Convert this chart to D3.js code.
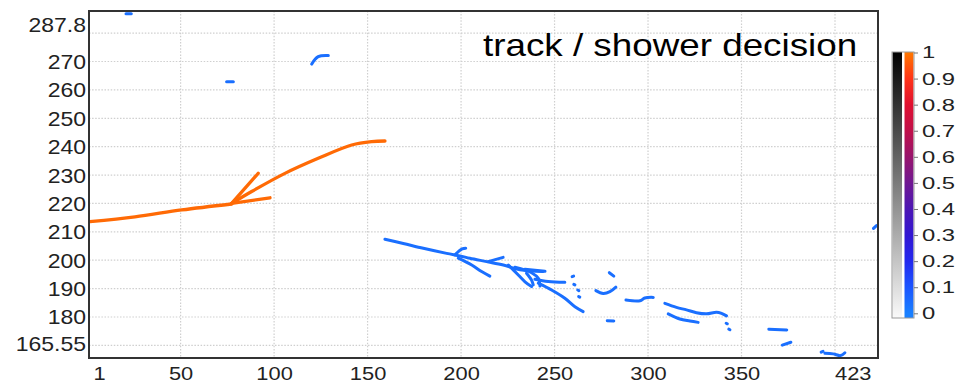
<!DOCTYPE html>
<html>
<head>
<meta charset="utf-8">
<script src="https://cdn.jsdelivr.net/npm/d3@7"></script>
<style>
  html, body { margin: 0; padding: 0; background: #fff; }
  svg { display: block; font-family: "Liberation Sans", Arial, sans-serif; }
</style>
</head>
<body>
<svg id="chart" width="959" height="385"></svg>
<script>
// Axis ranges (wire number vs. drift time)
const wireDomain = [1, 423];
const timeDomain = [165.55, 287.8];
const wireLabels = [1, 50, 100, 150, 200, 250, 300, 350, 423];
const timeLabels = [287.8, 270, 260, 250, 240, 230, 220, 210, 200, 190, 180, 165.55];
const wireGrid = [50, 100, 150, 200, 250, 300, 350, 400];
const timeGrid = [170, 180, 190, 200, 210, 220, 230, 240, 250, 260, 270, 280];

// Colour bar: score stops and tick labels
const scoreStops = [0, 0.1, 0.2, 0.3, 0.4, 0.5, 0.6, 0.7, 0.8, 0.9, 1];
const scoreColors = ["#1a80ff", "#1b55ff", "#2228ee", "#3216d2", "#4c16b4", "#701892",
                     "#98146c", "#c0104a", "#e01030", "#ff3418", "#ff7800"];
const scoreTicks = [0, 0.1, 0.2, 0.3, 0.4, 0.5, 0.6, 0.7, 0.8, 0.9, 1];

// Hit strokes: [wire, time] vertices, one score per stroke
const trackScore = 0.98;
const trackHits = [
  [[1.5, 213.6], [25.6, 215.3], [50.6, 217.7], [77.3, 219.8]],
  [[77.3, 220.0], [88.0, 224.2], [105.8, 230.6], [123.6, 235.9], [141.5, 240.6], [152.2, 241.8], [159.3, 242.0]],
  [[77.3, 220.0], [91.5, 230.6]],
  [[77.3, 220.0], [97.8, 222.0]]
];

const showerScore = 0.04;
const showerHits = [
  [[20.8, 286.8], [23.6, 286.8]],
  [[74.6, 262.9], [78.2, 262.9]],
  [[120.1, 269.1], [123.6, 271.7], [129.0, 272.1]],
  [[420.6, 211.2], [422.2, 212.2]],
  [[159.3, 207.4], [169.1, 205.9], [179.8, 204.2], [192.3, 202.4], [199.4, 201.5], [204.7, 200.7],
   [213.7, 199.5], [222.6, 198.3], [231.5, 196.6], [243.9, 196.0]],
  [[196.7, 201.9], [200.6, 204.0], [202.5, 204.2]],
  [[214.5, 199.5], [222.5, 201.0]],
  [[198.5, 200.7], [205.7, 198.3], [211.0, 196.0], [215.4, 194.4]],
  [[225.3, 198.3], [230.6, 194.8], [234.2, 192.4], [237.7, 190.7]],
  [[228.8, 197.5], [237.7, 195.6], [241.3, 193.6], [242.2, 190.9]],
  [[239.5, 193.3], [246.6, 192.5], [255.5, 192.2]],
  [[241.3, 191.9], [248.4, 189.5], [255.5, 186.6], [260.9, 183.6], [265.3, 181.9]],
  [[235.0, 195.4], [237.7, 193.0], [238.6, 191.3]],
  [[234.2, 196.8], [244.9, 196.1]],
  [[259.4, 194.2], [260.2, 194.4]],
  [[260.3, 191.5], [260.9, 191.3]],
  [[262.4, 189.5], [263.0, 189.3]],
  [[262.9, 187.2], [263.5, 187.0]],
  [[279.3, 195.6], [281.7, 194.4]],
  [[272.1, 189.3], [276.0, 188.3], [279.6, 188.9], [282.8, 190.5]],
  [[278.2, 178.7], [281.7, 178.6]],
  [[288.2, 186.0], [295.7, 185.7], [298.3, 186.7], [302.8, 186.9]],
  [[309.0, 184.8], [315.2, 183.4], [320.6, 182.5], [325.9, 181.5], [331.3, 181.1], [336.6, 181.7],
   [339.3, 181.3], [342.0, 180.4]],
  [[310.8, 181.1], [317.0, 179.3], [322.4, 178.6], [326.8, 178.1]],
  [[341.8, 177.8], [342.4, 177.6]],
  [[343.2, 175.7], [343.8, 175.5]],
  [[364.6, 175.7], [374.2, 175.4]],
  [[371.8, 170.1], [376.4, 171.1]],
  [[392.6, 167.6], [393.6, 167.9]],
  [[394.6, 167.2], [399.0, 167.0], [403.0, 166.4], [405.3, 167.4]]
];

const titleText = "track / shower decision";

// ---- layout ----
const plot = { left: 89, right: 878, top: 11, bottom: 358 };
const stretch = 1.15;

const svg = d3.select("#chart");
const x = d3.scaleLinear().domain(wireDomain).range([plot.left, plot.right]);
const y = d3.scaleLinear().domain(timeDomain).range([plot.bottom, plot.top]);
const color = d3.scaleLinear().domain(scoreStops).range(scoreColors).interpolate(d3.interpolateRgb);

// grid
const grid = svg.append("g").attr("stroke", "#cfcfcf").attr("stroke-width", 1.2)
  .attr("stroke-dasharray", "1.5,1.6");
grid.selectAll("line.v").data(wireGrid).join("line")
  .attr("x1", d => x(d)).attr("x2", d => x(d))
  .attr("y1", plot.top).attr("y2", plot.bottom);
grid.selectAll("line.h").data(timeGrid).join("line")
  .attr("y1", d => y(d)).attr("y2", d => y(d))
  .attr("x1", plot.left).attr("x2", plot.right);

// hits
svg.append("clipPath").attr("id", "plotClip").append("rect")
  .attr("x", plot.left).attr("y", plot.top)
  .attr("width", plot.right - plot.left).attr("height", plot.bottom - plot.top);

const line = d3.line().x(d => x(d[0])).y(d => y(d[1])).curve(d3.curveCatmullRom);
const hits = svg.append("g").attr("clip-path", "url(#plotClip)")
  .attr("fill", "none").attr("stroke-linecap", "round").attr("stroke-linejoin", "round");
hits.selectAll("path.shower").data(showerHits).join("path")
  .attr("class", "shower").attr("d", line).attr("stroke-width", 3)
  .attr("stroke", color(showerScore));
hits.selectAll("path.track").data(trackHits).join("path")
  .attr("class", "track").attr("d", line).attr("stroke-width", 3.3)
  .attr("stroke", color(trackScore));

// frame
svg.append("rect")
  .attr("x", plot.left).attr("y", plot.top)
  .attr("width", plot.right - plot.left).attr("height", plot.bottom - plot.top)
  .attr("fill", "none").attr("stroke", "#333").attr("stroke-width", 2);

// x axis labels
const xAxis = d3.axisBottom(x).tickValues(wireLabels).tickSize(0).tickPadding(0)
  .tickFormat(d3.format("d"));
const gx = svg.append("g").attr("transform", `translate(0,${plot.bottom})`).call(xAxis);
gx.select(".domain").remove();
gx.selectAll("text")
  .attr("font-size", 19).attr("font-family", "Liberation Sans, Arial, sans-serif")
  .attr("fill", "#222").attr("dy", null).attr("y", 22)
  .attr("text-anchor", d => d === wireDomain[0] ? "start" : d === wireDomain[1] ? "end" : "middle")
  .attr("x", d => (d === wireDomain[0] ? 4 : d === wireDomain[1] ? -7 : 0) / stretch)
  .attr("transform", `scale(${stretch},1)`);

// y axis labels
const yAxis = d3.axisLeft(y).tickValues(timeLabels).tickSize(0).tickPadding(0)
  .tickFormat(d => String(d));
const gy = svg.append("g").attr("transform", `translate(${plot.left},0)`).call(yAxis);
gy.select(".domain").remove();
gy.selectAll("text")
  .attr("font-size", 20).attr("font-family", "Liberation Sans, Arial, sans-serif")
  .attr("fill", "#222").attr("text-anchor", "end")
  .attr("x", -3 / stretch).attr("dy", "0.35em")
  .attr("y", d => d === timeDomain[1] ? 14 : d === timeDomain[0] ? -14.5 : 0)
  .attr("transform", `scale(${stretch},1)`);

// title
svg.append("text")
  .attr("transform", `translate(483,56) scale(${stretch},1)`)
  .attr("font-size", 32).attr("fill", "#000")
  .text(titleText);

// colour bar
const cb = { x: 892, y: 52, w: 22, h: 266 };
const cy = d3.scaleLinear().domain([0, 1]).range([313.3, 52.5]);
const defs = svg.append("defs");
const gGray = defs.append("linearGradient").attr("id", "grayGrad")
  .attr("x1", 0).attr("y1", 1).attr("x2", 0).attr("y2", 0);
gGray.append("stop").attr("offset", 0).attr("stop-color", "#fafafa");
gGray.append("stop").attr("offset", 1).attr("stop-color", "#000");
const gCol = defs.append("linearGradient").attr("id", "scoreGrad")
  .attr("gradientUnits", "userSpaceOnUse")
  .attr("x1", 0).attr("y1", cy(0)).attr("x2", 0).attr("y2", cy(1));
gCol.selectAll("stop").data(scoreStops).join("stop")
  .attr("offset", d => d).attr("stop-color", d => color(d));

svg.append("rect").attr("x", cb.x + 0.5).attr("y", cb.y).attr("width", 9.5).attr("height", cb.h)
  .attr("fill", "url(#grayGrad)");
svg.append("rect").attr("x", cb.x + 12.5).attr("y", cb.y).attr("width", 9).attr("height", cb.h)
  .attr("fill", "url(#scoreGrad)");
svg.append("rect").attr("x", cb.x).attr("y", cb.y).attr("width", cb.w).attr("height", cb.h)
  .attr("fill", "none").attr("stroke", "#9a9a9a").attr("stroke-width", 1);

const cbAxis = d3.axisRight(cy).tickValues(scoreTicks).tickSize(4).tickPadding(5)
  .tickFormat(d => String(d));
const gc = svg.append("g").attr("transform", `translate(${cb.x + cb.w},0)`).call(cbAxis);
gc.select(".domain").remove();
gc.selectAll("line").attr("stroke", "#777");
gc.selectAll("text")
  .attr("font-size", 17).attr("font-family", "Liberation Sans, Arial, sans-serif")
  .attr("fill", "#222").attr("x", 8 / 1.4)
  .attr("transform", "scale(1.4,1)");
</script>
</body>
</html>
